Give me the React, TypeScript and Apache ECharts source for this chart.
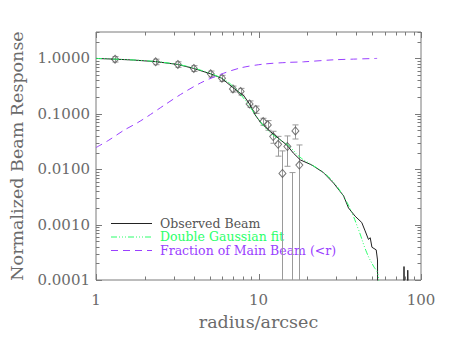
import React, { useEffect, useRef } from "react";
import * as echarts from "echarts";

// ---- data ----
const observedR = [1.0, 1.31, 1.7, 2.33, 3.18, 3.99, 5.08, 5.93, 6.93, 8.13, 8.81, 9.5, 10.3, 11.0, 11.8, 13.0, 15.0, 16.4, 18.1, 20.8, 21.7, 25.1, 29.0, 33.4, 35.8, 39.3, 43.2, 45.3, 47.5, 48.7, 49.9, 53.0, 54.0, 54.5, 77.6, 78.6, 80.0, 81.8, 82.9, 84.8];
const observedV = [1.0, 0.97, 0.935, 0.875, 0.78, 0.66, 0.527, 0.44, 0.3, 0.211, 0.15, 0.097, 0.07, 0.058, 0.048, 0.038, 0.027, 0.0195, 0.0147, 0.0123, 0.0115, 0.0087, 0.0056, 0.0033, 0.002, 0.00142, 0.00109, 0.00077, 0.00054, 0.00058, 0.00039, 0.00035, 0.00023, 0.000001, 0.000001, 0.000175, 0.000001, 0.000001, 0.00015, 0.000001];

const fitR = [1.0, 1.5, 2.0, 2.5, 3.0, 3.5, 4.0, 5.0, 6.0, 7.0, 8.0, 9.0, 10.0, 11.0, 12.0, 13.0, 14.0, 15.0, 16.0, 18.0, 21.0, 25.0, 29.0, 33.0, 36.7, 41.2, 46.4, 51.0, 54.0, 55.0];
const fitV = [1.0, 0.955, 0.91, 0.86, 0.8, 0.74, 0.67, 0.54, 0.43, 0.31, 0.2, 0.125, 0.08, 0.056, 0.044, 0.037, 0.032, 0.028, 0.0235, 0.0165, 0.0123, 0.0088, 0.0058, 0.0034, 0.0019, 0.00082, 0.00031, 0.000178, 0.000135, 0.00009];

const fractionR = [1.0, 1.2, 1.485, 1.8, 2.085, 2.6, 3.32, 4.41, 5.84, 7.76, 10.7, 15.1, 18.9, 28.8, 40.0, 53.7];
const fractionV = [0.0246, 0.0335, 0.0505, 0.069, 0.0905, 0.14, 0.224, 0.362, 0.515, 0.675, 0.789, 0.847, 0.868, 0.943, 0.975, 1.0];

const pointR = [1.31, 2.33, 3.19, 4.0, 5.08, 5.96, 6.96, 7.76, 8.81, 9.62, 10.69, 11.41, 12.31, 13.21, 14.04, 15.06, 16.1, 16.87, 17.84];
const pointV = [0.97, 0.87, 0.78, 0.66, 0.527, 0.44, 0.282, 0.253, 0.151, 0.12, 0.0726, 0.063, 0.0389, 0.0282, 0.0084, 0.0256, -0.004, 0.0491, 0.0119];
const pointErr = [0.11, 0.1, 0.09, 0.08, 0.065, 0.055, 0.035, 0.035, 0.02, 0.018, 0.0105, 0.0125, 0.0095, 0.011, 0.013, 0.0143, 0.0127, 0.014, 0.0155];

const xTickLabels = ["1", "10", "100"];
const xMajorTicks = [1, 10, 100];
const xMinorTicks = [2, 3, 4, 5, 6, 7, 8, 9, 20, 30, 40, 50, 60, 70, 80, 90];
const yTickLabels = ["0.0001", "0.0010", "0.0100", "0.1000", "1.0000"];
const yMajorTicks = [0.0001, 0.001, 0.01, 0.1, 1];
const yMinorTicks = [0.0002, 0.0003, 0.0004, 0.0005, 0.0006, 0.0007, 0.0008, 0.0009, 0.002, 0.003, 0.004, 0.005, 0.006, 0.007, 0.008, 0.009, 0.02, 0.03, 0.04, 0.05, 0.06, 0.07, 0.08, 0.09, 0.2, 0.3, 0.4, 0.5, 0.6, 0.7, 0.8, 0.9, 2, 3];

const seriesNames = ["Observed Beam", "Double Gaussian fit", "Fraction of Main Beam (<r)"];

const X_MIN = 1, X_MAX = 100, Y_MIN = 0.0001, Y_MAX = 3;
const FONT = "DejaVu Serif";
const AXIS_COLOR = "#7a7a7a";
const TEXT_COLOR = "#6b6b6b";
const BLACK = "#222222";
const GREEN = "#2bff6a";
const PURPLE = "#9a40ff";
const GREEN_DASH = [6, 2, 1, 2, 1, 2, 1, 2];
const PURPLE_DASH = [7, 5];

function zip(a: number[], b: number[]) {
  return a.map((v, i) => [v, b[i]]);
}

export default function App() {
  const ref = useRef<HTMLDivElement>(null);
  useEffect(() => {
    if (!ref.current) return;
    const chart = echarts.init(ref.current, undefined, { renderer: "svg" });

    const tickData: number[][] = [
      ...xMajorTicks.map((v) => [v, 1, 1, 0]),
      ...xMinorTicks.map((v) => [v, 1, 0, 0]),
      ...yMajorTicks.map((v) => [1, v, 1, 1]),
      ...yMinorTicks.map((v) => [1, v, 0, 1]),
    ];

    const errData = pointR.map((r, i) => [r, pointV[i] - pointErr[i], pointV[i] + pointErr[i]]);
    const markerData = pointR.map((r, i) => [r, pointV[i]]).filter((d) => d[1] > 0);

    // legend drawn as graphic elements
    const legendStyles = [
      { line: BLACK, text: "#555555", dash: null as any },
      { line: GREEN, text: GREEN, dash: GREEN_DASH },
      { line: PURPLE, text: PURPLE, dash: PURPLE_DASH },
    ];
    const legendGraphic: any[] = [];
    seriesNames.forEach((name, i) => {
      const y = 223 + i * 13.5;
      const st = legendStyles[i];
      legendGraphic.push({
        type: "line",
        silent: true,
        shape: { x1: 111, y1: y + 0.5, x2: 152, y2: y + 0.5 },
        style: { stroke: st.line, lineWidth: 1, lineDash: st.dash },
      });
      legendGraphic.push({
        type: "text",
        silent: true,
        x: 160,
        y: y,
        style: {
          text: name,
          fill: st.text,
          font: `12.5px "${FONT}"`,
          textVerticalAlign: "middle",
          verticalAlign: "middle",
          textAlign: "left",
        },
      });
    });

    const option: any = {
      animation: false,
      backgroundColor: "#ffffff",
      grid: {
        left: 95, right: 29, top: 32, bottom: 66,
        show: true, borderColor: AXIS_COLOR, borderWidth: 1, backgroundColor: "transparent",
      },
      graphic: legendGraphic,
      xAxis: {
        type: "log",
        logBase: 10,
        min: X_MIN,
        max: X_MAX,
        axisLine: { show: false },
        axisTick: { show: false },
        splitLine: { show: false },
        axisLabel: {
          color: TEXT_COLOR, fontFamily: FONT, fontSize: 15, margin: 12,
          formatter: (v: number) => {
            const i = xMajorTicks.findIndex((t) => Math.abs(Math.log10(t) - Math.log10(v)) < 1e-6);
            return i >= 0 ? xTickLabels[i] : "";
          },
        },
        name: "radius/arcsec",
        nameLocation: "middle",
        nameGap: 33,
        nameTextStyle: { color: TEXT_COLOR, fontFamily: FONT, fontSize: 17.5 },
      },
      yAxis: {
        type: "log",
        logBase: 10,
        min: Y_MIN,
        max: Y_MAX,
        axisLine: { show: false },
        axisTick: { show: false },
        splitLine: { show: false },
        axisLabel: {
          color: TEXT_COLOR, fontFamily: FONT, fontSize: 15, margin: 6,
          showMaxLabel: false,
          formatter: (v: number) => {
            const i = yMajorTicks.findIndex((t) => Math.abs(Math.log10(t) - Math.log10(v)) < 1e-6);
            return i >= 0 ? yTickLabels[i] : "";
          },
        },
        name: "Normalized Beam Response",
        nameLocation: "middle",
        nameGap: 70,
        nameRotate: 90,
        nameTextStyle: { color: TEXT_COLOR, fontFamily: FONT, fontSize: 17.5 },
      },
      series: [
        {
          type: "custom",
          name: "ticks",
          silent: true,
          clip: false,
          coordinateSystem: "cartesian2d",
          data: tickData,
          renderItem: (params: any, api: any) => {
            const cs = params.coordSys;
            const major = api.value(2) === 1;
            const len = major ? 6 : 3.5;
            const style = { stroke: AXIS_COLOR, lineWidth: 1 };
            if (api.value(3) === 0) {
              const px = Math.round(api.coord([api.value(0), 1])[0]) + 0.5;
              const b = cs.y + cs.height;
              return {
                type: "group",
                children: [
                  { type: "line", shape: { x1: px, y1: b, x2: px, y2: b - len }, style },
                  { type: "line", shape: { x1: px, y1: cs.y, x2: px, y2: cs.y + len }, style },
                ],
              };
            }
            const py = Math.round(api.coord([1, api.value(1)])[1]) + 0.5;
            const r = cs.x + cs.width;
            return {
              type: "group",
              children: [
                { type: "line", shape: { x1: cs.x, y1: py, x2: cs.x + len, y2: py }, style },
                { type: "line", shape: { x1: r, y1: py, x2: r - len, y2: py }, style },
              ],
            };
          },
        },
        {
          type: "custom",
          name: "errors",
          silent: true,
          clip: true,
          coordinateSystem: "cartesian2d",
          data: errData,
          renderItem: (params: any, api: any) => {
            const r = api.value(0);
            const lo = api.value(1);
            const hi = api.value(2);
            const top = api.coord([r, hi]);
            const bot = api.coord([r, Math.max(lo, Y_MIN / 10)]);
            const x = Math.round(top[0]) + 0.5;
            const style = { stroke: "#9a9a9a", lineWidth: 1 };
            const children: any[] = [
              { type: "line", shape: { x1: x, y1: top[1], x2: x, y2: bot[1] }, style },
              { type: "line", shape: { x1: x - 3, y1: top[1], x2: x + 3, y2: top[1] }, style },
            ];
            if (lo > Y_MIN) {
              children.push({ type: "line", shape: { x1: x - 3, y1: bot[1], x2: x + 3, y2: bot[1] }, style });
            }
            return { type: "group", children };
          },
        },
        {
          type: "scatter",
          name: "points",
          symbol: "diamond",
          symbolSize: [7, 8],
          itemStyle: { color: "rgba(0,0,0,0)", borderColor: "#555555", borderWidth: 1 },
          data: markerData,
          silent: true,
        },
        {
          type: "line",
          name: seriesNames[2],
          data: zip(fractionR, fractionV),
          symbol: "none",
          smooth: 0.3,
          lineStyle: { color: PURPLE, width: 1, type: PURPLE_DASH },
          itemStyle: { color: PURPLE },
          silent: true,
        },
        {
          type: "line",
          name: seriesNames[0],
          data: zip(observedR, observedV),
          symbol: "none",
          clip: true,
          lineStyle: { color: BLACK, width: 1 },
          itemStyle: { color: BLACK },
          silent: true,
        },
        {
          type: "line",
          name: seriesNames[1],
          data: zip(fitR, fitV),
          symbol: "none",
          smooth: true,
          clip: true,
          lineStyle: { color: GREEN, width: 1, type: GREEN_DASH },
          itemStyle: { color: GREEN },
          silent: true,
        },
      ],
    };
    chart.setOption(option);
    return () => chart.dispose();
  }, []);

  return (
    <div
      ref={ref}
      style={{ position: "fixed", left: 0, top: 0, width: 450, height: 346, background: "#fff" }}
    />
  );
}
